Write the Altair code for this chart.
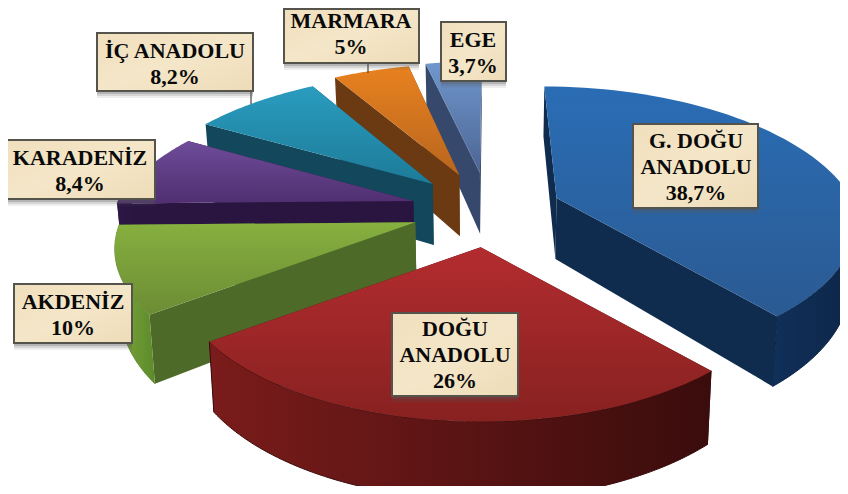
import numpy as np
import pandas as pd
import altair as alt

REGIONS = ["G. DOĞU ANADOLU", "DOĞU ANADOLU", "AKDENİZ", "KARADENİZ", "İÇ ANADOLU", "MARMARA", "EGE"]
SHARES = [38.7, 26.0, 10.0, 8.4, 8.2, 5.0, 3.7]
SHARE_TEXT = ["38,7%", "26%", "10%", "8,4%", "8,2%", "5%", "3,7%"]

# styles per slice: top gradient (back -> front), curved wall gradient (left -> right), radial wall colour
TOP = [("#2a6db5", "#2b5a92"), ("#b32c2f", "#872120"), ("#86b03f", "#6c8c34"), ("#6f4c99", "#4f2f70"),
       ("#2a9cbf", "#1d7b98"), ("#e8811f", "#b8661f"), ("#7097cd", "#4c6594")]
WALL = [("#10305a", "#0d2647"), ("#7a1c1b", "#3a0c0c"), ("#7fa83a", "#5c8a2c"), ("#2d1745", "#2a1540"),
        ("#12485c", "#12485c"), ("#6b3a12", "#6b3a12"), ("#35476b", "#35476b")]
SIDE = ["#0f2c4f", "#3d0d0d", "#4e6a28", "#2a1540", "#13475b", "#6b3a12", "#36486c"]
FRONT_PERSP = [0.17, 0.22, 0.19, 0.22, 0.22, 0.22, 0.22]
EXPLODE = [72, 78, 78, 78, 78, 78, 78]

# label box layout: left, right, top, bottom, centre, first baseline
BOXES = [(633, 758, 124, 208, 696, 148), (392, 518, 313, 396, 455, 336), (14, 132, 284, 343, 73, 309),
         (6, 155, 140, 199, 80, 165), (97, 253, 33, 91, 175, 58), (284, 419, 9, 63, 351, 28),
         (441, 506, 22, 81, 473, 47)]
LABEL_LINES = [["G. DOĞU", "ANADOLU"], ["DOĞU", "ANADOLU"], ["AKDENİZ"], ["KARADENİZ"], ["İÇ ANADOLU"], ["MARMARA"], ["EGE"]]

# 3D pie projection
CX, CY = 489, 210
FLAT = 0.48
RX, RY, PERSP, DEPTH = 295, 136, 0.22, 61

XS = alt.Scale(domain=[8, 840], range=[0, 832], nice=False, zero=False)
YS = alt.Scale(domain=[8, 486], range=[0, 478], nice=False, zero=False)


def grad(c0, c1, horiz=False):
    return alt.Gradient(gradient="linear", x1=0, y1=0, x2=1 if horiz else 0, y2=0 if horiz else 1,
                        stops=[alt.GradientStop(color=c0, offset=0), alt.GradientStop(color=c1, offset=1)])


def project(i, apex, t, down=False):
    v = np.cos(t)
    s = 1 / (1 + (PERSP if v > 0 else FRONT_PERSP[i]) * v)
    x = apex[0] + s * RX * np.sin(t)
    if v > 0:
        x = x + (apex[0] - CX) * (s - 1)
    y = apex[1] - s * RY * v
    if down:
        y = y + DEPTH * s
        x = CX + (x - CX) * 0.984
    return x, y


def apex_down(apex):
    return (CX + (apex[0] - CX) * 0.984, apex[1] + DEPTH)


def poly(points, fill, edge=None):
    df = pd.DataFrame({"px": [p[0] for p in points], "py": [p[1] for p in points], "i": range(len(points))})
    mark = dict(fill=fill, interpolate="linear", clip=True)
    if edge:
        mark.update(stroke=edge, strokeWidth=1)
    else:
        mark.update(strokeWidth=0)
    return alt.Chart(df).mark_line(**mark).encode(
        x=alt.X("px:Q", scale=XS, axis=None),
        y=alt.Y("py:Q", scale=YS, axis=None),
        order="i:Q",
    )


layers = []
edges = np.radians(np.concatenate([[0], np.cumsum(SHARES)]) * 3.6)
# paint from the back slice round to the front ones, the big blue slice last
for i in [6, 5, 4, 3, 2, 1, 0]:
    a, b = edges[i], edges[i + 1]
    m = (a + b) / 2
    apex = (CX + EXPLODE[i] * np.sin(m), CY - EXPLODE[i] * FLAT * np.cos(m))
    ad = apex_down(apex)
    # radial walls
    for t in (a, b):
        layers.append(poly([apex, project(i, apex, t), project(i, apex, t, True), ad], SIDE[i]))
    # curved wall, only the part that faces the viewer
    ts = np.linspace(a, b, 90)
    ts = ts[np.cos(ts) < 0.12]
    if len(ts) > 1:
        top = [project(i, apex, t) for t in ts]
        bot = [project(i, apex, t, True) for t in ts[::-1]]
        layers.append(poly(top + bot, grad(WALL[i][0], WALL[i][1], True), WALL[i][1]))
    arc = [project(i, apex, t) for t in np.linspace(a, b, 60)]
    layers.append(poly([apex] + arc, grad(TOP[i][0], TOP[i][1])))

# leader lines
leaders = pd.DataFrame({"x": [251, 368], "y": [91, 63], "y2": [104, 73]})
layers.append(alt.Chart(leaders).mark_rule(color="#444444", strokeWidth=1.2).encode(
    x=alt.X("x:Q", scale=XS, axis=None), y=alt.Y("y:Q", scale=YS, axis=None), y2="y2:Q"))

# label boxes, shadows, text
boxes = pd.DataFrame(BOXES, columns=["l", "r", "t", "b", "c", "base"])
for off, op in [(7, 0.10), (5, 0.16), (3, 0.26)]:
    sh = boxes.assign(t=boxes.b, b=boxes.b + off)
    layers.append(alt.Chart(sh).mark_rect(color="#555555", opacity=op).encode(
        x=alt.X("l:Q", scale=XS, axis=None), x2="r:Q", y=alt.Y("t:Q", scale=YS, axis=None), y2="b:Q"))
layers.append(alt.Chart(boxes).mark_rect(
    fill=alt.Gradient(gradient="linear", x1=0, y1=0, x2=1, y2=1, stops=[
        alt.GradientStop(color="#f0dfbd", offset=0), alt.GradientStop(color="#f4e6c8", offset=0.5),
        alt.GradientStop(color="#eedcb8", offset=1)]),
    stroke="#55544c", strokeWidth=2).encode(
    x=alt.X("l:Q", scale=XS, axis=None), x2="r:Q", y=alt.Y("t:Q", scale=YS, axis=None), y2="b:Q"))

rows = []
for i, lines in enumerate(LABEL_LINES):
    box = BOXES[i]
    for j, txt in enumerate(lines + [SHARE_TEXT[i]]):
        rows.append({"txt": txt, "x": box[4], "y": box[5] + j * 26})
layers.append(alt.Chart(pd.DataFrame(rows)).mark_text(
    font="Liberation Serif", fontWeight="bold", fontSize=22, color="#0a0a0a", align="center", baseline="alphabetic"
).encode(x=alt.X("x:Q", scale=XS, axis=None), y=alt.Y("y:Q", scale=YS, axis=None), text="txt:N"))

chart = alt.layer(*layers).properties(
    width=832, height=478, padding=0, background="white",
    autosize=alt.AutoSizeParams(type="none"),
).configure_view(stroke=None)

chart.save("out.html", embed_options={"renderer": "svg", "actions": False})
